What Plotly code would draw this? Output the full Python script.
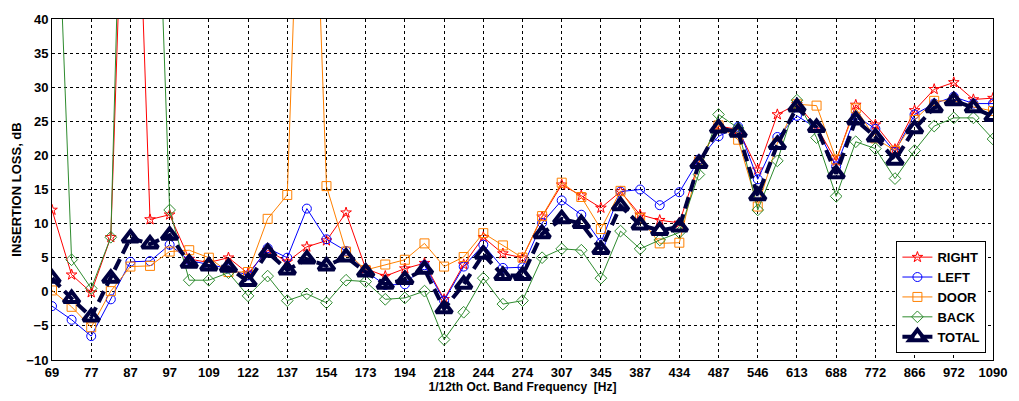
import plotly.graph_objects as go

freq_labels = ["69", "73", "77", "82", "87", "92", "97", "103", "109", "116", "122", "130", "137",
               "146", "154", "163", "173", "183", "194", "206", "218", "231", "244", "259", "274",
               "291", "307", "326", "345", "366", "387", "410", "434", "460", "487", "516", "546",
               "579", "613", "649", "688", "729", "772", "818", "866", "918", "972", "1030", "1090"]

right = [12.0, 2.5, -0.1, 8.0, 95, 10.6, 11.3, 4.8, 4.3, 5.0, 2.7, 6.1, 4.4, 6.6, 7.5, 11.6, 3.4,
         2.3, 3.4, 4.2, -1.1, 4.0, 8.0, 5.6, 5.0, 11.0, 15.7, 14.1, 12.3, 14.7, 11.3, 10.5, 10.1,
         19.0, 24.3, 23.8, 17.9, 26.0, 27.5, 24.2, 19.2, 27.4, 24.5, 20.9, 26.6, 29.7, 30.7, 28.2, 28.4]
left = [-2.1, -4.1, -6.5, -1.1, 4.4, 4.5, 6.9, 4.6, 4.0, 3.4, 2.4, 6.4, 5.0, 12.2, 7.7, 6.0, 3.0,
        1.0, 1.1, 3.9, -1.3, 3.7, 6.9, 3.5, 3.6, 10.1, 13.4, 11.3, 7.2, 14.7, 15.0, 12.7, 14.6,
        19.4, 22.8, 24.2, 16.5, 22.7, 25.8, 24.0, 18.4, 25.8, 23.9, 20.5, 26.0, 27.6, 28.6, 27.6, 27.6]
door = [0.2, -2.2, -5.2, 0.1, 3.7, 3.8, 5.9, 6.1, 5.0, 2.9, 2.9, 10.7, 14.2, 97, 15.5, 5.9, 3.2,
        4.0, 4.7, 7.1, 3.7, 5.1, 8.6, 6.8, 5.0, 11.1, 16.0, 13.9, 9.2, 14.8, 10.8, 7.1, 7.2,
        19.1, 24.4, 22.3, 12.5, 21.8, 27.5, 27.3, 19.4, 26.9, 22.5, 20.7, 25.2, 28.0, 28.0, 27.1, 26.5]
back = [80, 4.7, 0.5, 8.0, 115, 95, 12.0, 1.7, 1.7, 2.8, -0.6, 2.3, -1.3, -0.3, -1.6, 1.7, 1.5,
        -1.1, -0.9, 0.1, -7.0, -3.0, 2.0, -1.8, -1.3, 5.0, 6.3, 6.1, 2.0, 8.9, 6.3, 7.6, 8.7,
        17.2, 26.0, 24.0, 12.0, 19.2, 28.1, 22.6, 14.0, 22.0, 21.0, 16.6, 20.7, 24.3, 25.5, 25.5, 22.4]
total = [2.0, -1.0, -3.7, 2.0, 7.9, 7.0, 8.3, 4.2, 3.8, 3.6, 1.5, 5.8, 3.2, 4.8, 3.8, 5.1, 2.9,
         1.1, 1.8, 3.3, -2.5, 1.1, 5.5, 2.4, 2.4, 8.5, 10.7, 10.0, 6.2, 12.6, 9.8, 9.0, 9.5,
         18.8, 24.0, 23.4, 14.1, 21.6, 27.1, 24.1, 17.3, 25.2, 22.7, 19.3, 23.9, 27.0, 28.0, 27.0, 25.7]

x = list(range(len(freq_labels)))
tick_idx = x[::2]
tick_txt = freq_labels[::2]

FONT = "Liberation Sans, Arial, sans-serif"

series = [
    ("RIGHT", right, "#ff0000", "star-open", 8),
    ("LEFT", left, "#0000ff", "circle-open", 9),
    ("DOOR", door, "#ff8000", "square-open", 9),
    ("BACK", back, "#2e8b2e", "diamond-open", 9),
]

fig = go.Figure()
for name, ys, col, sym, size in series:
    fig.add_trace(go.Scatter(
        x=x, y=ys, name=name, mode="lines+markers",
        line=dict(color=col, width=1),
        marker=dict(symbol=sym, size=size, color=col, line=dict(color=col, width=1)),
    ))

fig.add_trace(go.Scatter(
    x=x, y=total, name="TOTAL", mode="lines+markers",
    line=dict(color="#000040", width=4, dash="12px,6px"),
    marker=dict(symbol="triangle-up-open", size=14, color="#000040",
                line=dict(color="#000040", width=4)),
))

fig.update_layout(
    width=1019, height=401,
    margin=dict(l=52, r=18, t=13, b=41),
    paper_bgcolor="white", plot_bgcolor="white",
    font=dict(family=FONT, size=13, color="black", weight="bold"),
    showlegend=True,
    legend=dict(
        x=0.993, y=0.02, xanchor="right", yanchor="bottom",
        bgcolor="white", bordercolor="black", borderwidth=1,
        font=dict(family=FONT, size=13, color="black", weight="bold"),
        tracegroupgap=0, itemwidth=30,
    ),
)

fig.update_xaxes(
    range=[0, 48], tickmode="array", tickvals=tick_idx, ticktext=tick_txt,
    showgrid=True, gridcolor="black", gridwidth=1, griddash="3px,3px",
    showline=True, linecolor="black", linewidth=1, mirror=True,
    ticks="", zeroline=False,
    tickfont=dict(family=FONT, size=13, color="black", weight="bold"),
    title=dict(text="1/12th Oct. Band Frequency  [Hz]", standoff=0,
               font=dict(family=FONT, size=12, color="black", weight="bold")),
)
fig.update_yaxes(
    range=[-10, 40], dtick=5,
    showgrid=True, gridcolor="black", gridwidth=1, griddash="3px,3px",
    showline=True, linecolor="black", linewidth=1, mirror=True,
    ticks="", zeroline=False,
    tickfont=dict(family=FONT, size=13, color="black", weight="bold"),
    title=dict(text="INSERTION LOSS, dB", standoff=1,
               font=dict(family=FONT, size=13, color="black", weight="bold")),
)

fig.write_html("out.html")
